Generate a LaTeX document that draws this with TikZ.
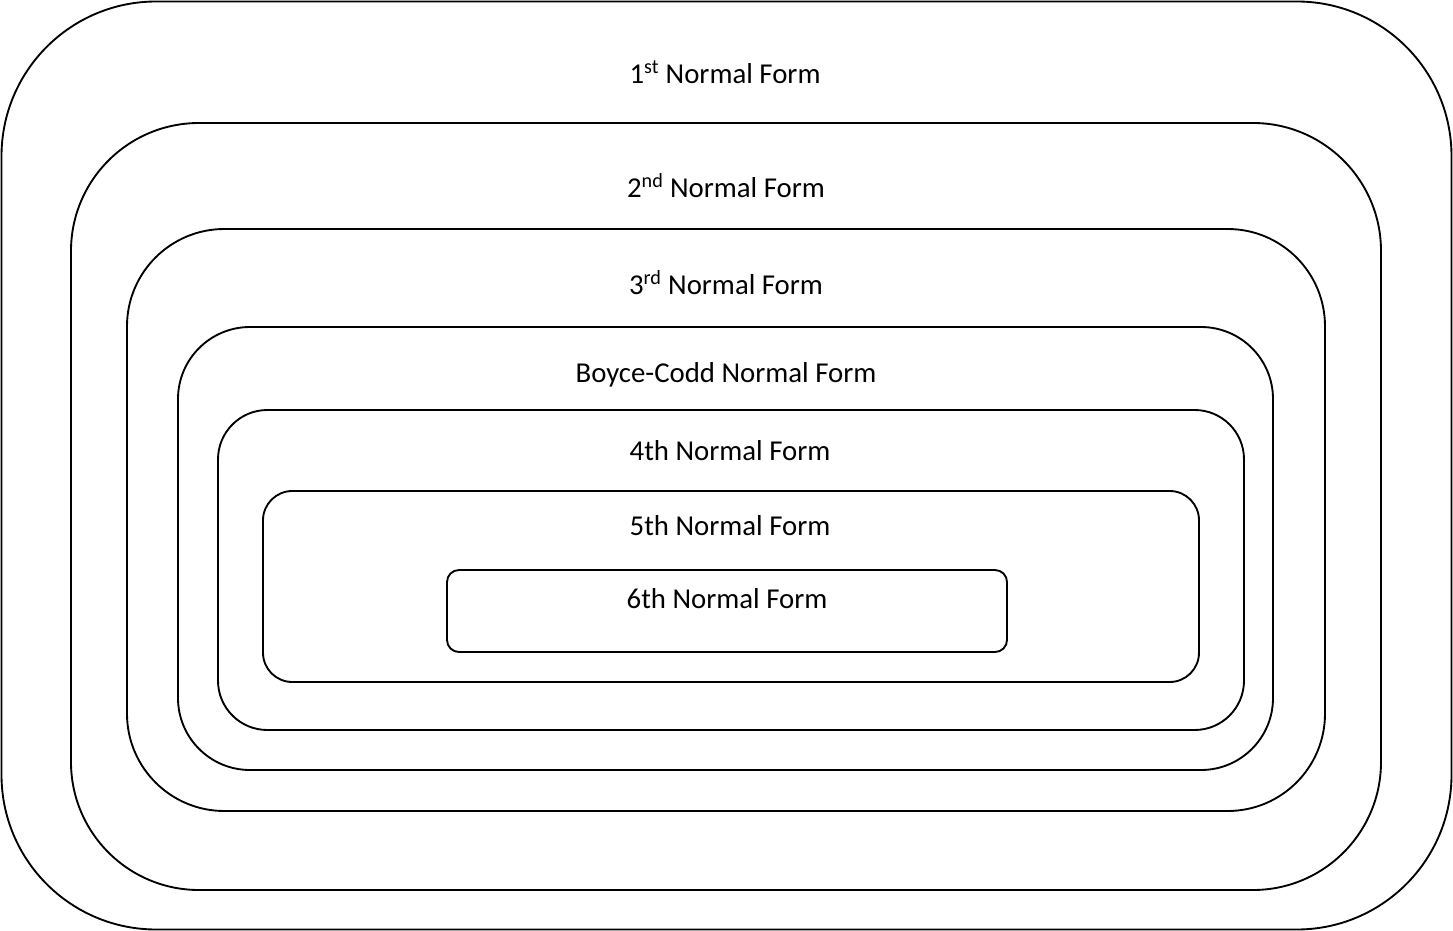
\documentclass[tikz,border=0pt]{standalone}
\usepackage{fontspec}
\setmainfont{Carlito}
\begin{document}
\begin{tikzpicture}[x=0.75pt,y=-0.75pt,
  nfbox/.style={draw=black,line width=1.4pt},
  nflabel/.style={font=\fontsize{21.6}{24}\selectfont,inner sep=0pt,anchor=center}]
\useasboundingbox (0,0) rectangle (1453,931);
\draw[nfbox,rounded corners=116pt] (1.5,1.5) rectangle (1451.5,929.5);
\draw[nfbox,rounded corners=96pt] (71,123) rectangle (1381,890);
\draw[nfbox,rounded corners=73pt] (127,229) rectangle (1325,811);
\draw[nfbox,rounded corners=54pt] (178,327) rectangle (1273,770);
\draw[nfbox,rounded corners=37pt] (218,410) rectangle (1244,730);
\draw[nfbox,rounded corners=22pt] (263,491) rectangle (1199,682);
\draw[nfbox,rounded corners=9pt] (447,570) rectangle (1007,652);
\node[nflabel] (l1) at (725,72) {1\textsuperscript{st} Normal Form};
\node[nflabel] (l2) at (726,186) {2\textsuperscript{nd} Normal Form};
\node[nflabel] (l3) at (726,283) {3\textsuperscript{rd} Normal Form};
\node[nflabel] (lb) at (726,375) {Boyce-Codd Normal Form};
\node[nflabel] (l4) at (730,451) {4th Normal Form};
\node[nflabel] (l5) at (730,526) {5th Normal Form};
\node[nflabel] (l6) at (727,599) {6th Normal Form};
\end{tikzpicture}
\end{document}
